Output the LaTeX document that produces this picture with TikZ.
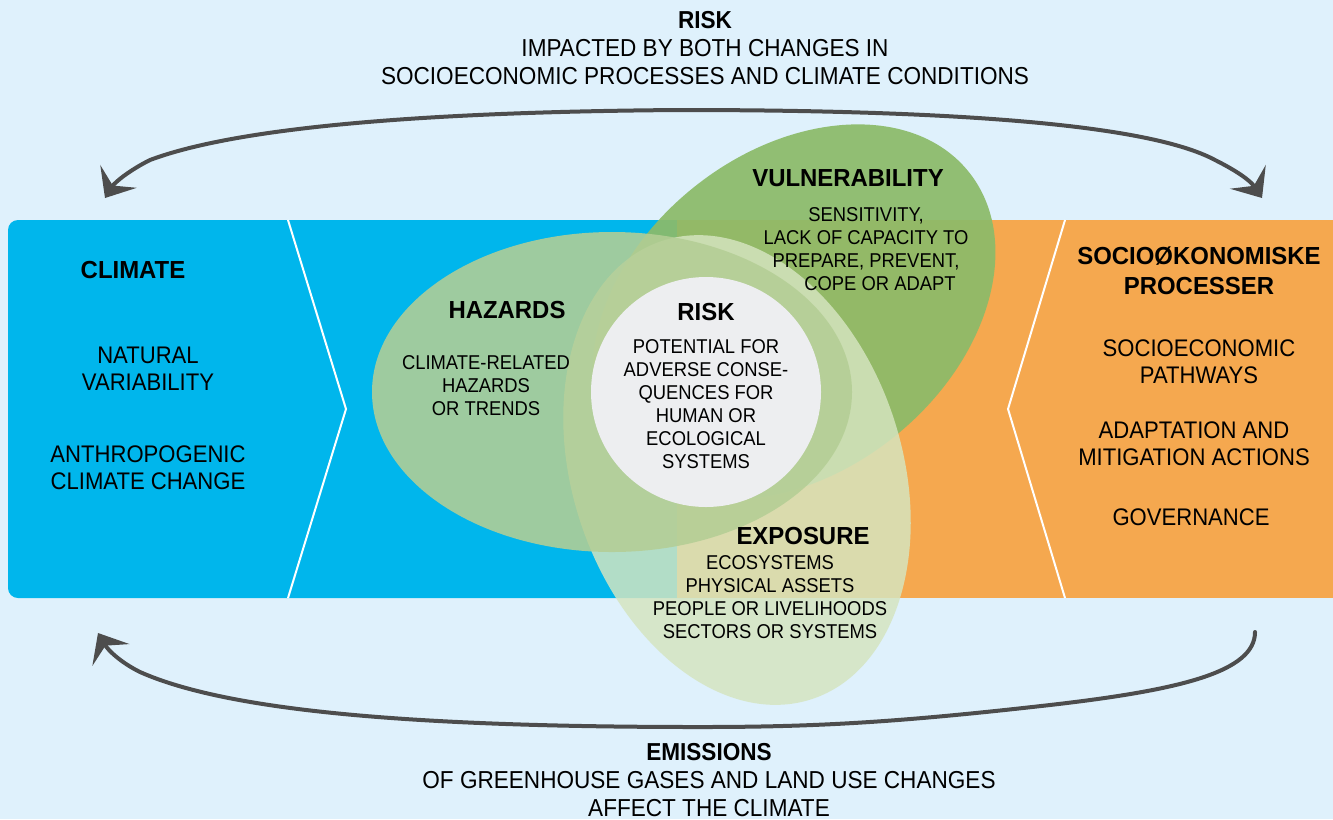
\documentclass[tikz,border=0pt]{standalone}
\usepackage{fontspec}
\setmainfont{Liberation Sans}[FakeStretch=0.92]
\newfontfamily\headfont{Liberation Sans}[FakeStretch=0.97]
\usetikzlibrary{arrows.meta}
\definecolor{skyback}{HTML}{DFF1FC}
\definecolor{climblue}{HTML}{00B6EC}
\definecolor{socorange}{HTML}{F5A84F}
\definecolor{vulgreen}{HTML}{8CBB69}
\definecolor{hazgreen}{HTML}{B4CE95}
\definecolor{expgreen}{HTML}{D5E5C0}
\definecolor{riskgrey}{HTML}{EDEEF0}
\definecolor{loopgrey}{HTML}{4D4D4D}

\begin{document}
\begin{tikzpicture}[x=0.75pt,y=-0.75pt,>={Stealth[length=19pt,width=32pt,inset=8pt]},
  every node/.style={align=center,text=black,inner sep=0pt},
  paneltxt/.style={font=\fontsize{18}{20.25}\selectfont},
  blobtxt/.style={font=\fontsize{15}{17.25}\selectfont},
  captxt/.style={font=\fontsize{18.4}{21}\selectfont},
  headtxt/.style={font=\headfont\bfseries\fontsize{18.5}{22.5}\selectfont},
  cycleline/.style={draw=loopgrey,line width=3pt}]
\fill[skyback] (0,0) rectangle (1333,819);
\useasboundingbox (0,0) rectangle (1333,819);
\fill[climblue,rounded corners=7.5pt] (8,220) rectangle (720,598);
\fill[socorange] (677,220) rectangle (1333,598);
\draw[white,line width=1.5pt] (288,220) -- (346,409) -- (288,598);
\draw[white,line width=1.5pt] (1065,220) -- (1008,409) -- (1065,598);
\fill[vulgreen,fill opacity=0.93,rotate around={38.7:(794,312)}] (794,312) ellipse [x radius=224,y radius=160];
\fill[expgreen,fill opacity=0.84,rotate around={-72:(737,470)}] (737,470) ellipse [x radius=241,y radius=165];
\fill[hazgreen,fill opacity=0.88] (612,392) ellipse [x radius=240,y radius=160];
\node[circle,fill=riskgrey,minimum size=172.5pt] (riskdisc) at (706,392) {};
\node[headtxt] (climhead) at (133,270) {CLIMATE};
\node[paneltxt] (climnat) at (148,369) {NATURAL\\VARIABILITY};
\node[paneltxt] (climanth) at (148,468) {ANTHROPOGENIC\\CLIMATE CHANGE};
\node[headtxt] (sochead) at (1199,271) {SOCIOØKONOMISKE\\PROCESSER};
\node[paneltxt] (socpath) at (1199,362) {SOCIOECONOMIC\\PATHWAYS};
\node[paneltxt] (socadapt) at (1194,444) {ADAPTATION AND\\MITIGATION ACTIONS};
\node[paneltxt] (socgov) at (1191,517) {GOVERNANCE};
\node[headtxt] (hazhead) at (507,310) {HAZARDS};
\node[blobtxt] (haztxt) at (486,386) {CLIMATE-RELATED\\HAZARDS\\OR TRENDS};
\node[headtxt] (riskhead) at (706,312) {RISK};
\node[blobtxt] (risktxt) at (706,404) {POTENTIAL FOR\\ADVERSE CONSE-\\QUENCES FOR\\HUMAN OR\\ECOLOGICAL\\SYSTEMS};
\node[headtxt] (vulhead) at (848,178) {VULNERABILITY};
\node[blobtxt] (vultxt) at (866,249) {SENSITIVITY,\\LACK OF CAPACITY TO\\PREPARE, PREVENT,\\\hspace*{1.4em}COPE OR ADAPT};
\node[headtxt] (exphead) at (803,536) {EXPOSURE};
\node[blobtxt] (exptxt) at (770,597) {ECOSYSTEMS\\PHYSICAL ASSETS\\PEOPLE OR LIVELIHOODS\\SECTORS OR SYSTEMS};
\node[captxt] (risktop) at (705,48) {\textbf{RISK}\\IMPACTED BY BOTH CHANGES IN\\SOCIOECONOMIC PROCESSES AND CLIMATE CONDITIONS};
\node[captxt] (emisbot) at (709,780) {\textbf{EMISSIONS}\\OF GREENHOUSE GASES AND LAND USE CHANGES\\AFFECT THE CLIMATE};
\coordinate (riskL) at (105,198);
\coordinate (riskR) at (1262,198);
\coordinate (emisR) at (1255,632);
\coordinate (emisL) at (98,633);
\draw[cycleline,<->] (riskL) .. controls (115,182) and (130,170) .. (150,160) .. controls (230,130) and (400,112) .. (680,110) .. controls (960,110) and (1150,125) .. (1215,160) .. controls (1235,170) and (1250,180) .. (riskR);
\draw[cycleline,->,line cap=round] (emisR) .. controls (1255,672) and (1180,690) .. (1050,705) .. controls (900,722) and (820,727) .. (700,727) .. controls (420,727) and (230,712) .. (140,672) .. controls (120,662) and (108,650) .. (emisL);
\end{tikzpicture}
\end{document}
